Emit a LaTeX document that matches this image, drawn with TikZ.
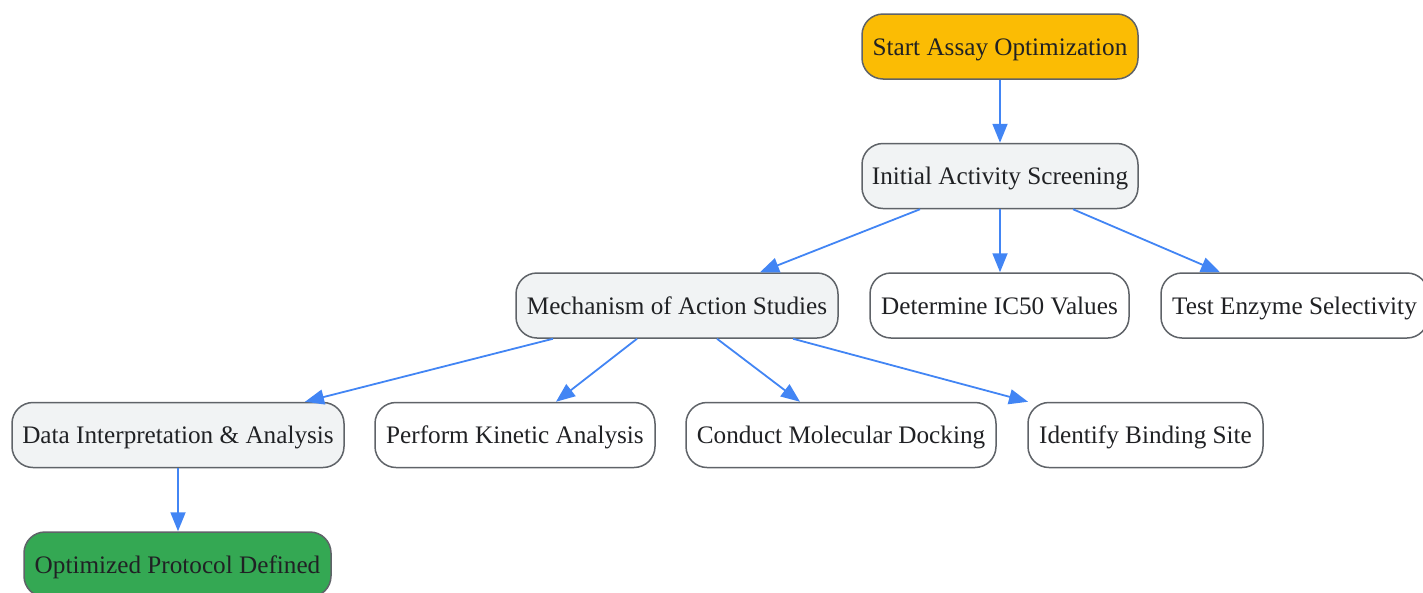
\documentclass[tikz,border=0pt]{standalone}
\usepackage{fontspec}
\setmainfont{Liberation Serif}
\usetikzlibrary{arrows.meta,calc}
\definecolor{bordergray}{HTML}{5F6368}
\definecolor{txt}{HTML}{202124}
\definecolor{lightfill}{HTML}{F1F3F4}
\definecolor{startfill}{HTML}{FBBC04}
\definecolor{endfill}{HTML}{34A853}
\definecolor{arrowblue}{HTML}{4285F4}
\tikzset{
  box/.style={draw=bordergray, line width=1.5pt, rounded corners=21pt, fill=white,
    minimum height=65pt, inner sep=0pt, text height=19pt, text depth=1.5pt,
    text=txt, font=\fontsize{25.2}{30}\selectfont},
  greybox/.style={box, fill=lightfill},
  startbox/.style={box, fill=startfill},
  endbox/.style={box, fill=endfill},
  conn/.style={draw=arrowblue, line width=1.8pt, -{Triangle[length=19pt,width=15pt]}}
}
\begin{document}
\begin{tikzpicture}[x=1pt,y=-1pt]
\useasboundingbox (0,0) rectangle (1423,592);
\node[startbox, minimum width=276pt] (start) at (1000,46.5) {Start Assay Optimization};
\node[greybox, minimum width=276pt] (init) at (1000,176) {Initial Activity Screening};
\node[greybox, minimum width=322pt] (mech) at (677,305.5) {Mechanism of Action Studies};
\node[box, minimum width=259pt] (ic50) at (999.5,305.5) {Determine IC50 Values};
\node[box, minimum width=267pt] (sel) at (1294.5,305.5) {Test Enzyme Selectivity};
\node[greybox, minimum width=332pt] (data) at (178,435) {Data Interpretation \& Analysis};
\node[box, minimum width=280pt] (kin) at (515,435) {Perform Kinetic Analysis};
\node[box, minimum width=310pt] (dock) at (841,435) {Conduct Molecular Docking};
\node[box, minimum width=235pt] (bind) at (1145.5,435) {Identify Binding Site};
\node[endbox, minimum width=307pt] (opt) at (177.5,564.5) {Optimized Protocol Defined};

\draw[conn] (start.south) -- (init.north);
\draw[conn] ([xshift=-80pt]init.south) -- ([xshift=83pt]mech.north);
\draw[conn] (init.south) -- (ic50.north -| init.south);
\draw[conn] ([xshift=73pt]init.south) -- ([xshift=-74.5pt]sel.north);
\draw[conn] ([xshift=-124pt]mech.south) -- ([xshift=127pt]data.north);
\draw[conn] ([xshift=-40pt]mech.south) -- ([xshift=41pt]kin.north);
\draw[conn] ([xshift=40pt]mech.south) -- ([xshift=-41pt]dock.north);
\draw[conn] ([xshift=116pt]mech.south) -- ([xshift=-117.5pt]bind.north);
\draw[conn] (data.south) -- (opt.north -| data.south);
\end{tikzpicture}
\end{document}
